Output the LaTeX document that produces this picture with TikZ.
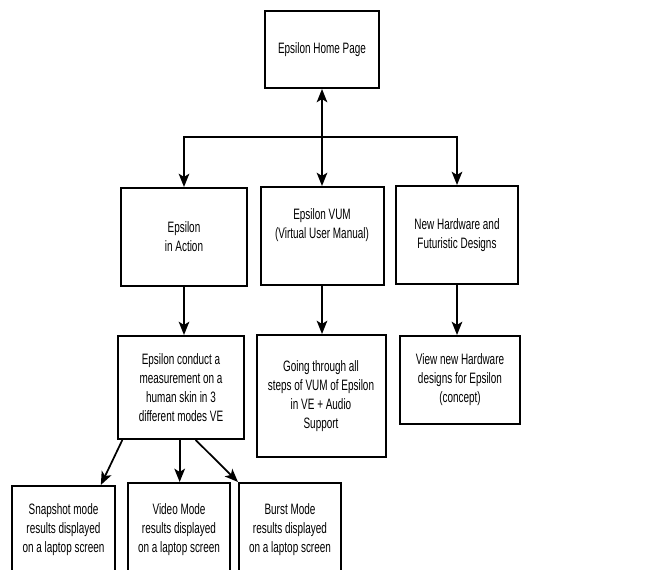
\documentclass[tikz,border=0pt]{standalone}
\usepackage{fontspec}
\setmainfont{Liberation Sans}[FakeStretch=0.66]
\usetikzlibrary{arrows.meta}

\tikzset{
    box/.style={draw, line width=1.5pt, align=center, inner sep=2pt,
        font=\fontsize{11.3}{14.25}\selectfont},
    link/.style={line width=1.3pt, -{Stealth[length=10pt, width=8pt, inset=2.5pt]}}
}

\begin{document}
\begin{tikzpicture}[x=0.75pt, y=-0.75pt]
        \useasboundingbox (0,0) rectangle (646,570);
        \clip (0,0) rectangle (646,570);

        % Pagina iniziale e tre sezioni
        \node[box, minimum width=85.5pt, minimum height=57.75pt] (home) at (322,49.5) {Epsilon Home Page};
        \node[box, minimum width=94.5pt, minimum height=73.5pt] (action) at (184,237) {Epsilon\\in Action};
        \node[box, minimum width=92.25pt, minimum height=73.5pt] (vum) at (322,236) {Epsilon VUM\\(Virtual User Manual)\\\strut};
        \node[box, minimum width=91.5pt, minimum height=73.5pt] (hw) at (457,235) {New Hardware and\\Futuristic Designs};

        % Secondo livello
        \node[box, minimum width=94.5pt, minimum height=77.25pt] (measure) at (181,387.5) {Epsilon conduct a\\measurement on a\\human skin in 3\\different modes VE};
        \node[box, minimum width=96.75pt, minimum height=91.5pt] (going) at (321,396) {Going through all\\steps of VUM of Epsilon\\in VE + Audio\\Support};
        \node[box, minimum width=90pt, minimum height=66pt] (view) at (460,380) {View new Hardware\\designs for Epsilon\\(concept)};

        % Modi di misura
        \node[box, minimum width=77.25pt, minimum height=66pt] (snap) at (63.5,530) {Snapshot mode\\results displayed\\on a laptop screen};
        \node[box, minimum width=76.5pt, minimum height=70.5pt] (video) at (179,530) {Video Mode\\results displayed\\on a laptop screen};
        \node[box, minimum width=76.5pt, minimum height=70.5pt] (burst) at (290,530) {Burst Mode\\results displayed\\on a laptop screen};

        % Collegamenti
        \coordinate (split) at (322,137);
        \draw[link, {Stealth[length=10pt, width=8pt, inset=2.5pt]}-{Stealth[length=10pt, width=8pt, inset=2.5pt]}] (home) -- (vum);
        \draw[link] (split) -| (action.north);
        \draw[link] (split) -| (hw.north);
        \draw[link] (action) -- (action.south |- measure.north);
        \draw[link] (vum) -- (vum.south |- going.north);
        \draw[link] (hw.south) -- (hw.south |- view.north);
        \draw[link] ([xshift=4]measure.south west) -- ([xshift=28]snap.north);
        \draw[link] ([xshift=-1]measure.south) -- ([xshift=-1]measure.south |- video.north);
        \draw[link] ([xshift=-37]measure.south east) -- (burst.north west);
\end{tikzpicture}
\end{document}
